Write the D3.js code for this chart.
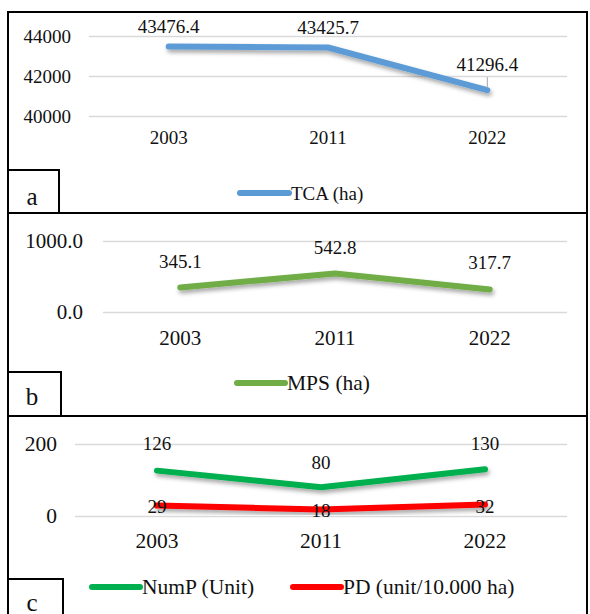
<!DOCTYPE html>
<html>
<head>
<meta charset="utf-8">
<script src="https://cdn.jsdelivr.net/npm/d3@7"></script>
<style>
  html, body { margin: 0; padding: 0; background: #fff; }
</style>
</head>
<body>
<svg id="chart" width="590" height="614"></svg>
<script>
// Landscape metrics for three survey years
const years = ["2003", "2011", "2022"];
const tca = [43476.4, 43425.7, 41296.4];   // total class area (ha)
const mps = [345.1, 542.8, 317.7];         // mean patch size (ha)
const nump = [126, 80, 130];               // number of patches
const pd = [29, 18, 32];                   // patch density (unit/10.000 ha)

const ticksA = [40000, 42000, 44000];
const ticksB = [0, 1000];
const ticksC = [0, 200];

const FONT = "'Liberation Serif'";
const svg = d3.select("#chart");

// soft drop shadow under the series lines
const defs = svg.append("defs");
const f = defs.append("filter").attr("id", "shadow")
  .attr("x", "-10%").attr("y", "-50%").attr("width", "120%").attr("height", "250%");
f.append("feDropShadow").attr("dx", 1.5).attr("dy", 3).attr("stdDeviation", 2)
  .attr("flood-color", "#000").attr("flood-opacity", 0.35);

function txt(sel, size) {
  return sel.style("font-family", FONT).style("font-size", size + "px").attr("fill", "#111");
}

function panel(opt) {
  const g = svg.append("g");
  const x = d3.scaleBand().domain(years).range([opt.left, opt.right]);
  const cx = d => x(d) + x.bandwidth() / 2;
  const y = d3.scaleLinear().domain(opt.domain).range(opt.yRange);

  // gridlines + value labels
  const ya = g.append("g").attr("transform", `translate(${opt.left},0)`)
    .call(d3.axisLeft(y).tickValues(opt.ticks).tickFormat(opt.fmt)
      .tickSize(-(opt.right - opt.left)).tickPadding(opt.yPad));
  ya.attr("font-family", null).attr("font-size", null);
  ya.select(".domain").remove();
  ya.selectAll(".tick line").attr("stroke", "#d9d9d9").attr("stroke-width", 1.5);
  txt(ya.selectAll(".tick text"), opt.axisFont);

  // category labels
  const xa = g.append("g").attr("transform", `translate(0,${y(opt.domain[0])})`)
    .call(d3.axisBottom(x).tickSize(0).tickPadding(opt.xPad));
  xa.attr("font-family", null).attr("font-size", null);
  xa.select(".domain").remove();
  txt(xa.selectAll(".tick text"), opt.catFont);

  const line = d3.line().x((d, i) => cx(years[i])).y(d => y(d));

  opt.series.forEach(s => {
    g.append("path").datum(s.values)
      .attr("d", line).attr("fill", "none")
      .attr("stroke", s.color).attr("stroke-width", 6)
      .attr("stroke-linecap", "round").attr("stroke-linejoin", "round")
      .attr("filter", "url(#shadow)");
  });

  opt.series.forEach(s => {
    s.values.forEach((v, i) => {
      const off = s.labelOffsets[i];
      const px = cx(years[i]), py = y(v);
      if (s.leader && s.leader[i]) {
        g.append("line").attr("x1", px).attr("x2", px)
          .attr("y1", py - off + 13).attr("y2", py - 2)
          .attr("stroke", "#a6a6a6").attr("stroke-width", 1);
      }
      txt(g.append("text").attr("x", px).attr("y", py - off)
        .attr("text-anchor", "middle").attr("dominant-baseline", "central"), opt.labelFont)
        .text(s.fmt ? s.fmt(v) : v);
    });
  });

  // legend
  opt.legend.forEach(l => {
    g.append("line").attr("x1", l.x1).attr("x2", l.x2).attr("y1", l.y).attr("y2", l.y)
      .attr("stroke", l.color).attr("stroke-width", 6).attr("stroke-linecap", "round");
    txt(g.append("text").attr("x", l.x2 + 2).attr("y", l.y)
      .attr("dominant-baseline", "central"), opt.legendFont).text(l.text);
  });

  // frame and panel letter box
  g.append("rect").attr("x", 8).attr("y", opt.top).attr("width", 579).attr("height", opt.bottom - opt.top)
    .attr("fill", "none").attr("stroke", "#000").attr("stroke-width", 2);
  g.append("rect").attr("x", 8).attr("y", opt.boxTop).attr("width", opt.boxW).attr("height", opt.bottom - opt.boxTop)
    .attr("fill", "none").attr("stroke", "#000").attr("stroke-width", 2);
  txt(g.append("text").attr("x", 32).attr("y", opt.letterY).attr("text-anchor", "middle")
    .attr("dominant-baseline", "central"), 25).text(opt.letter);
}

panel({
  top: 12, bottom: 213, boxTop: 170, boxW: 51, letter: "a", letterY: 196,
  left: 89, right: 567, domain: [40000, 44000], yRange: [116, 36], ticks: ticksA,
  fmt: d3.format("d"), yPad: 18, xPad: 15, axisFont: 19, catFont: 19, labelFont: 19, legendFont: 19,
  series: [{ values: tca, color: "#5b9bd5", labelOffsets: [20, 20, 26], leader: [false, false, true],
             fmt: d3.format(".1f") }],
  legend: [{ x1: 240, x2: 289, y: 193, color: "#5b9bd5", text: "TCA (ha)" }]
});

panel({
  top: 213, bottom: 416, boxTop: 372, boxW: 53, letter: "b", letterY: 396,
  left: 103, right: 567, domain: [0, 1000], yRange: [312, 241], ticks: ticksB,
  fmt: d3.format(".1f"), yPad: 20, xPad: 18, axisFont: 21, catFont: 21, labelFont: 19, legendFont: 21.5,
  series: [{ values: mps, color: "#70ad47", labelOffsets: [26, 26, 27], fmt: d3.format(".1f") }],
  legend: [{ x1: 237, x2: 285, y: 383, color: "#70ad47", text: "MPS (ha)" }]
});

panel({
  top: 416, bottom: 640, boxTop: 579, boxW: 55, letter: "c", letterY: 602,
  left: 75, right: 567, domain: [0, 200], yRange: [516, 444], ticks: ticksC,
  fmt: d3.format("d"), yPad: 18, xPad: 17, axisFont: 21.5, catFont: 21.5, labelFont: 19, legendFont: 21.5,
  series: [
    { values: nump, color: "#00b050", labelOffsets: [27, 25, 26] },
    { values: pd, color: "#ff0000", labelOffsets: [-1, -1, -2] }
  ],
  legend: [
    { x1: 92, x2: 140, y: 587, color: "#00b050", text: "NumP (Unit)" },
    { x1: 293, x2: 341, y: 587, color: "#ff0000", text: "PD (unit/10.000 ha)" }
  ]
});
</script>
</body>
</html>
